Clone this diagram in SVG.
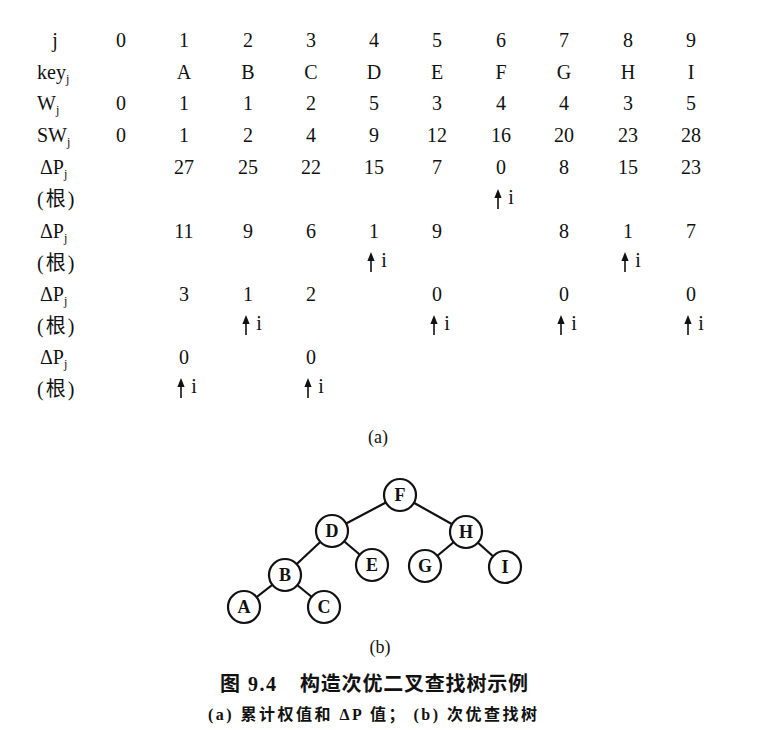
<svg xmlns="http://www.w3.org/2000/svg" xmlns:xlink="http://www.w3.org/1999/xlink" width="771" height="730" viewBox="0 0 771 730">
<style>
.t{font-family:"Liberation Serif","Noto Sans CJK SC",serif;font-size:20px;fill:#111;text-anchor:middle}
.l{font-family:"Liberation Serif","Noto Sans CJK SC",serif;font-size:20px;fill:#111}
.s{font-size:12px;fill:#111}
.n{font-family:"Liberation Serif",serif;font-size:18px;font-weight:bold;fill:#111;text-anchor:middle}
.c{fill:#fff;stroke:#111;stroke-width:2.2}
.e{stroke:#111;stroke-width:2.2}
.cap{font-family:"Liberation Serif","Noto Sans CJK SC",serif;fill:#111}
</style>
<defs>
<g id="up">
<line x1="0" y1="19" x2="0" y2="6" stroke="#111" stroke-width="1.6"/>
<polygon points="-3.6,8 0,-1 3.6,8" fill="#111"/>
<text x="13" y="14" class="l" style="text-anchor:middle">i</text>
</g>
</defs>
<rect width="771" height="730" fill="#fff"/>
<g id="table">
<text x="55" y="47" class="t">j</text>
<text x="37" y="79" class="l">key<tspan class="s" fill="#111" dy="4">j</tspan></text>
<text x="37" y="110" class="l">W<tspan class="s" fill="#111" dy="4">j</tspan></text>
<text x="37" y="142" class="l">SW<tspan class="s" fill="#111" dy="4">j</tspan></text>
<text x="40" y="174" class="l">ΔP<tspan class="s" fill="#111" dy="4">j</tspan></text>
<text x="37" y="206" class="l" letter-spacing="2">(根)</text>
<text x="40" y="238" class="l">ΔP<tspan class="s" fill="#111" dy="4">j</tspan></text>
<text x="37" y="270" class="l" letter-spacing="2">(根)</text>
<text x="40" y="301" class="l">ΔP<tspan class="s" fill="#111" dy="4">j</tspan></text>
<text x="37" y="333" class="l" letter-spacing="2">(根)</text>
<text x="40" y="364" class="l">ΔP<tspan class="s" fill="#111" dy="4">j</tspan></text>
<text x="37" y="396" class="l" letter-spacing="2">(根)</text>
<text x="121" y="47" class="t">0</text><text x="184" y="47" class="t">1</text><text x="248" y="47" class="t">2</text><text x="311" y="47" class="t">3</text><text x="374" y="47" class="t">4</text><text x="437" y="47" class="t">5</text><text x="501" y="47" class="t">6</text><text x="564" y="47" class="t">7</text><text x="628" y="47" class="t">8</text><text x="691" y="47" class="t">9</text>
<text x="184" y="79" class="t">A</text><text x="248" y="79" class="t">B</text><text x="311" y="79" class="t">C</text><text x="374" y="79" class="t">D</text><text x="437" y="79" class="t">E</text><text x="501" y="79" class="t">F</text><text x="564" y="79" class="t">G</text><text x="628" y="79" class="t">H</text><text x="691" y="79" class="t">I</text>
<text x="121" y="110" class="t">0</text><text x="184" y="110" class="t">1</text><text x="248" y="110" class="t">1</text><text x="311" y="110" class="t">2</text><text x="374" y="110" class="t">5</text><text x="437" y="110" class="t">3</text><text x="501" y="110" class="t">4</text><text x="564" y="110" class="t">4</text><text x="628" y="110" class="t">3</text><text x="691" y="110" class="t">5</text>
<text x="121" y="142" class="t">0</text><text x="184" y="142" class="t">1</text><text x="248" y="142" class="t">2</text><text x="311" y="142" class="t">4</text><text x="374" y="142" class="t">9</text><text x="437" y="142" class="t">12</text><text x="501" y="142" class="t">16</text><text x="564" y="142" class="t">20</text><text x="628" y="142" class="t">23</text><text x="691" y="142" class="t">28</text>
<text x="184" y="174" class="t">27</text><text x="248" y="174" class="t">25</text><text x="311" y="174" class="t">22</text><text x="374" y="174" class="t">15</text><text x="437" y="174" class="t">7</text><text x="501" y="174" class="t">0</text><text x="564" y="174" class="t">8</text><text x="628" y="174" class="t">15</text><text x="691" y="174" class="t">23</text>
<use xlink:href="#up" x="498" y="190"/>
<text x="184" y="238" class="t">11</text><text x="248" y="238" class="t">9</text><text x="311" y="238" class="t">6</text><text x="374" y="238" class="t">1</text><text x="437" y="238" class="t">9</text><text x="564" y="238" class="t">8</text><text x="628" y="238" class="t">1</text><text x="691" y="238" class="t">7</text>
<use xlink:href="#up" x="371" y="253"/>
<use xlink:href="#up" x="625" y="253"/>
<text x="184" y="301" class="t">3</text><text x="248" y="301" class="t">1</text><text x="311" y="301" class="t">2</text><text x="437" y="301" class="t">0</text><text x="564" y="301" class="t">0</text><text x="691" y="301" class="t">0</text>
<use xlink:href="#up" x="246" y="316"/>
<use xlink:href="#up" x="434" y="316"/>
<use xlink:href="#up" x="561" y="316"/>
<use xlink:href="#up" x="688" y="316"/>
<text x="184" y="364" class="t">0</text><text x="311" y="364" class="t">0</text>
<use xlink:href="#up" x="181" y="379"/>
<use xlink:href="#up" x="308" y="379"/>
<text x="378" y="443" class="cap" font-size="18" text-anchor="middle">(a)</text>
</g>
<g id="edges">
<line class="e" x1="400" y1="495" x2="332" y2="531"/>
<line class="e" x1="400" y1="495" x2="466" y2="532"/>
<line class="e" x1="332" y1="531" x2="285" y2="575"/>
<line class="e" x1="332" y1="531" x2="372" y2="565"/>
<line class="e" x1="466" y1="532" x2="425" y2="566"/>
<line class="e" x1="466" y1="532" x2="505" y2="567"/>
<line class="e" x1="285" y1="575" x2="244" y2="607"/>
<line class="e" x1="285" y1="575" x2="324" y2="607"/>
</g>
<g id="node-F"><circle class="c" cx="400" cy="495" r="16"/><text class="n" x="400" y="501">F</text></g>
<g id="node-D"><circle class="c" cx="332" cy="531" r="16"/><text class="n" x="332" y="537">D</text></g>
<g id="node-H"><circle class="c" cx="466" cy="532" r="16"/><text class="n" x="466" y="538">H</text></g>
<g id="node-E"><circle class="c" cx="372" cy="565" r="16"/><text class="n" x="372" y="571">E</text></g>
<g id="node-G"><circle class="c" cx="425" cy="566" r="16"/><text class="n" x="425" y="572">G</text></g>
<g id="node-I"><circle class="c" cx="505" cy="567" r="16"/><text class="n" x="505" y="573">I</text></g>
<g id="node-B"><circle class="c" cx="285" cy="575" r="16"/><text class="n" x="285" y="581">B</text></g>
<g id="node-A"><circle class="c" cx="244" cy="607" r="16"/><text class="n" x="244" y="613">A</text></g>
<g id="node-C"><circle class="c" cx="324" cy="607" r="16"/><text class="n" x="324" y="613">C</text></g>
<g id="captions">
<text x="380" y="653" class="cap" font-size="18" text-anchor="middle">(b)</text>
<text x="220" y="691" class="cap" font-size="20" font-weight="bold" textLength="56" lengthAdjust="spacing">图 9.4</text>
<text x="300" y="691" class="cap" font-size="20" font-weight="bold" textLength="228" lengthAdjust="spacing">构造次优二叉查找树示例</text>
<text x="208" y="720" class="cap" font-size="16" font-weight="bold" textLength="329" lengthAdjust="spacing">(a) 累计权值和 ΔP 值； (b) 次优查找树</text>
</g>
</svg>
